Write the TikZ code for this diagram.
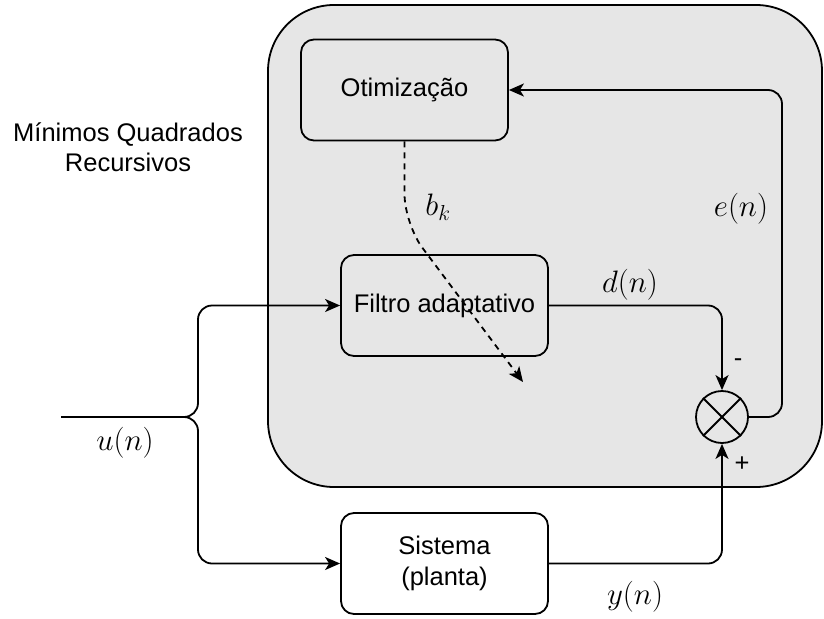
\RequirePackage{fix-cm}
\documentclass[tikz,border=0pt]{standalone}
\usepackage[no-math]{fontspec}
\setmainfont{Liberation Sans}
\usetikzlibrary{arrows.meta}
\definecolor{bgray}{RGB}{230,230,230}
\tikzset{
  ln/.style={line width=1.8pt, line join=round},
  arr/.style={ln, -{Stealth[length=15pt, width=13pt, inset=4pt]}},
  blk/.style={ln, draw, rounded corners=13pt, minimum width=207pt, minimum height=101pt, align=center, inner sep=0pt,
    font=\fontsize{25.5}{31}\selectfont},
  lbl/.style={font=\fontsize{25.5}{30}\selectfont, align=center, inner sep=0pt},
  mlbl/.style={font=\fontsize{31}{34}\selectfont, inner sep=0pt},
}
\begin{document}
\begin{tikzpicture}[x=1pt, y=-1pt]
\useasboundingbox (0,0) rectangle (824,618);
\draw[ln, fill=bgray, rounded corners=66pt] (268,5) rectangle (822,487);

\node[blk] (opt) at (404.5,90) {Otimização};
\node[blk] (filt) at (444.5,305.5) {Filtro adaptativo};
\node[blk] (sis) at (444.5,563.5) {Sistema\\(planta)};
\node[ln, draw, circle, minimum size=52pt, inner sep=0pt] (sum) at (722,417) {};
\draw[ln] (sum.north west) -- (sum.south east);
\draw[ln] (sum.north east) -- (sum.south west);

\node[lbl] (mqr) at (128,147) {Mínimos Quadrados\\Recursivos};

\coordinate (in) at (61,417);
\coordinate (split) at (198,417);
\coordinate (fbc) at (782,417);
\coordinate (bend) at (404.5,224);
\coordinate (tip) at (523,382);

\draw[arr, rounded corners=14pt] (in) -- (split) |- (filt.west);
\draw[arr, rounded corners=14pt] (in) -- (split) |- (sis.west);
\draw[arr, rounded corners=14pt] (filt.east) -| (sum.north);
\draw[arr, rounded corners=14pt] (sis.east) -| (sum.south);
\draw[arr, rounded corners=14pt] (sum.east) -- (fbc) |- (opt.east);
\draw[arr, dash pattern=on 6pt off 5pt, rounded corners=30pt] (opt.south) -- (bend) -- (tip);

\node[mlbl] (un) at (125,443) {$u(n)$};
\node[mlbl] (yn) at (635,597) {$y(n)$};
\node[mlbl] (dn) at (630,285) {$d(n)$};
\node[mlbl] (en) at (741,209) {$e(n)$};
\node[mlbl] (bk) at (438,207) {$b_k$};
\node[lbl] (minus) at (738,363) {-};
\node[lbl] (plus) at (742,464) {+};
\end{tikzpicture}
\end{document}
